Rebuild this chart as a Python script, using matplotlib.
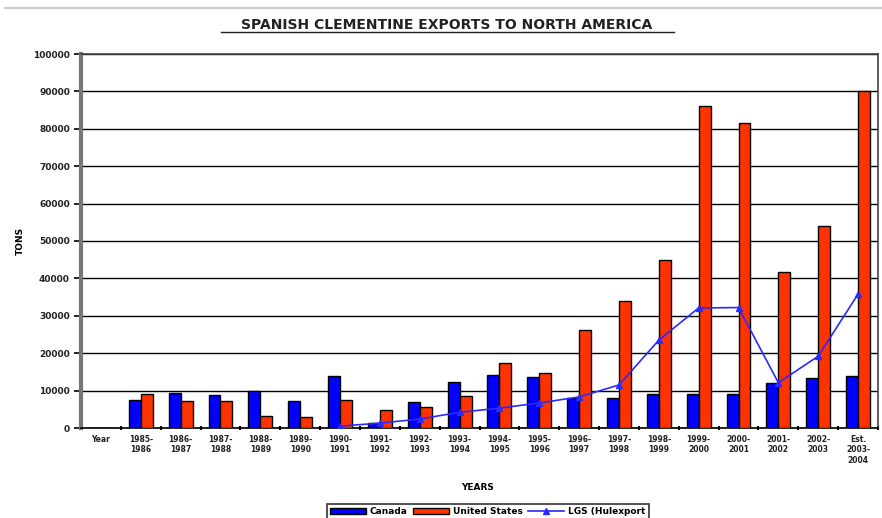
import matplotlib
matplotlib.use("Agg")
import matplotlib.pyplot as plt
import numpy as np
from matplotlib.lines import Line2D

years = ["Year", "1985-\n1986", "1986-\n1987", "1987-\n1988", "1988-\n1989", "1989-\n1990",
         "1990-\n1991", "1991-\n1992", "1992-\n1993", "1993-\n1994", "1994-\n1995",
         "1995-\n1996", "1996-\n1997", "1997-\n1998", "1998-\n1999", "1999-\n2000",
         "2000-\n2001", "2001-\n2002", "2002-\n2003", "Est.\n2003-\n2004"]
canada = [0, 7500, 9300, 8800, 9900, 7100, 13800, 1300, 7000, 12200, 14200,
          13700, 8000, 8000, 9100, 9100, 9100, 12100, 13300, 13900]
usa = [0, 9000, 7200, 7100, 3300, 3000, 7500, 4800, 5500, 8500, 17300,
       14600, 26200, 34000, 44900, 86200, 81500, 41800, 54000, 90000]
lgs = [np.nan, np.nan, np.nan, np.nan, np.nan, np.nan, 500, 1300, 2400, 4200, 5300,
       6700, 8300, 11500, 23500, 32100, 32200, 12100, 19200, 35800]

fig = plt.figure(figsize=(8.82, 5.18), dpi=100)
ax = fig.add_axes([81/882, 1-428/518, 797/882, 374/518])

x = np.arange(len(years))
w = 0.3
b1 = ax.bar(x - w/2, canada, w, color="#0000ff", edgecolor="black", linewidth=1, label="Canada", zorder=3)
b2 = ax.bar(x + w/2, usa, w, color="#ff3300", edgecolor="black", linewidth=1, label="United States", zorder=3)
l1, = ax.plot(x, lgs, color="#2a2aff", lw=1.2, marker="^", ms=4, label="LGS (Hulexport", zorder=4)

ax.set_xlim(-0.5, len(years) - 0.5)
ax.set_ylim(0, 100000)
ax.set_yticks(np.arange(0, 100001, 10000))
ax.set_yticklabels([str(v) for v in range(0, 100001, 10000)], fontsize=6.5, fontweight="bold", color="#222222")
ax.yaxis.grid(True, color="black", lw=1, zorder=0)
ax.set_xticks(x)
ax.set_xticklabels(years, fontsize=5.5, fontweight="bold", color="#222222")
ax.set_xticks(np.arange(-0.5, len(years), 1), minor=True)
ax.tick_params(axis="x", which="major", length=0, pad=5)
ax.tick_params(axis="x", which="minor", length=3, width=1.5, direction="inout")
ax.tick_params(axis="y", length=5, width=1.2, pad=3)

ax.spines["left"].set_linewidth(3)
ax.spines["left"].set_color("#777777")
for s in ["top", "right"]:
    ax.spines[s].set_linewidth(1.2)
    ax.spines[s].set_color("#444444")
ax.spines["bottom"].set_linewidth(1.2)
ax.spines["bottom"].set_color("black")

ax.set_ylabel("TONS", fontsize=6.5, fontweight="bold")
ax.yaxis.set_label_coords(-0.07, 0.5)
fig.text(478/882, 1-488/518, "YEARS", fontsize=6.5, fontweight="bold", ha="center", va="center")

fig.text(447/882, 1-25/518, "SPANISH CLEMENTINE EXPORTS TO NORTH AMERICA", fontsize=10,
         fontweight="bold", ha="center", va="center", color="#222222")
fig.add_artist(Line2D([221/882, 674/882], [1-32/518, 1-32/518], color="#222222", lw=1))
fig.add_artist(Line2D([5/882, 1], [1-8/518, 1-8/518], color="#cccccc", lw=1.5))

leg = fig.legend([b1, b2, l1], ["Canada", "United States", "LGS (Hulexport"],
                 loc="upper left", bbox_to_anchor=(322/882, 1-499/518), ncol=3,
                 prop={"size": 6.5, "weight": "bold"}, frameon=True, fancybox=False,
                 handlelength=4, columnspacing=0.6, handletextpad=0.4, borderpad=0.4)
leg.get_frame().set_edgecolor("black")
leg.get_frame().set_linewidth(1.2)

fig.savefig("out.png", dpi=100)
